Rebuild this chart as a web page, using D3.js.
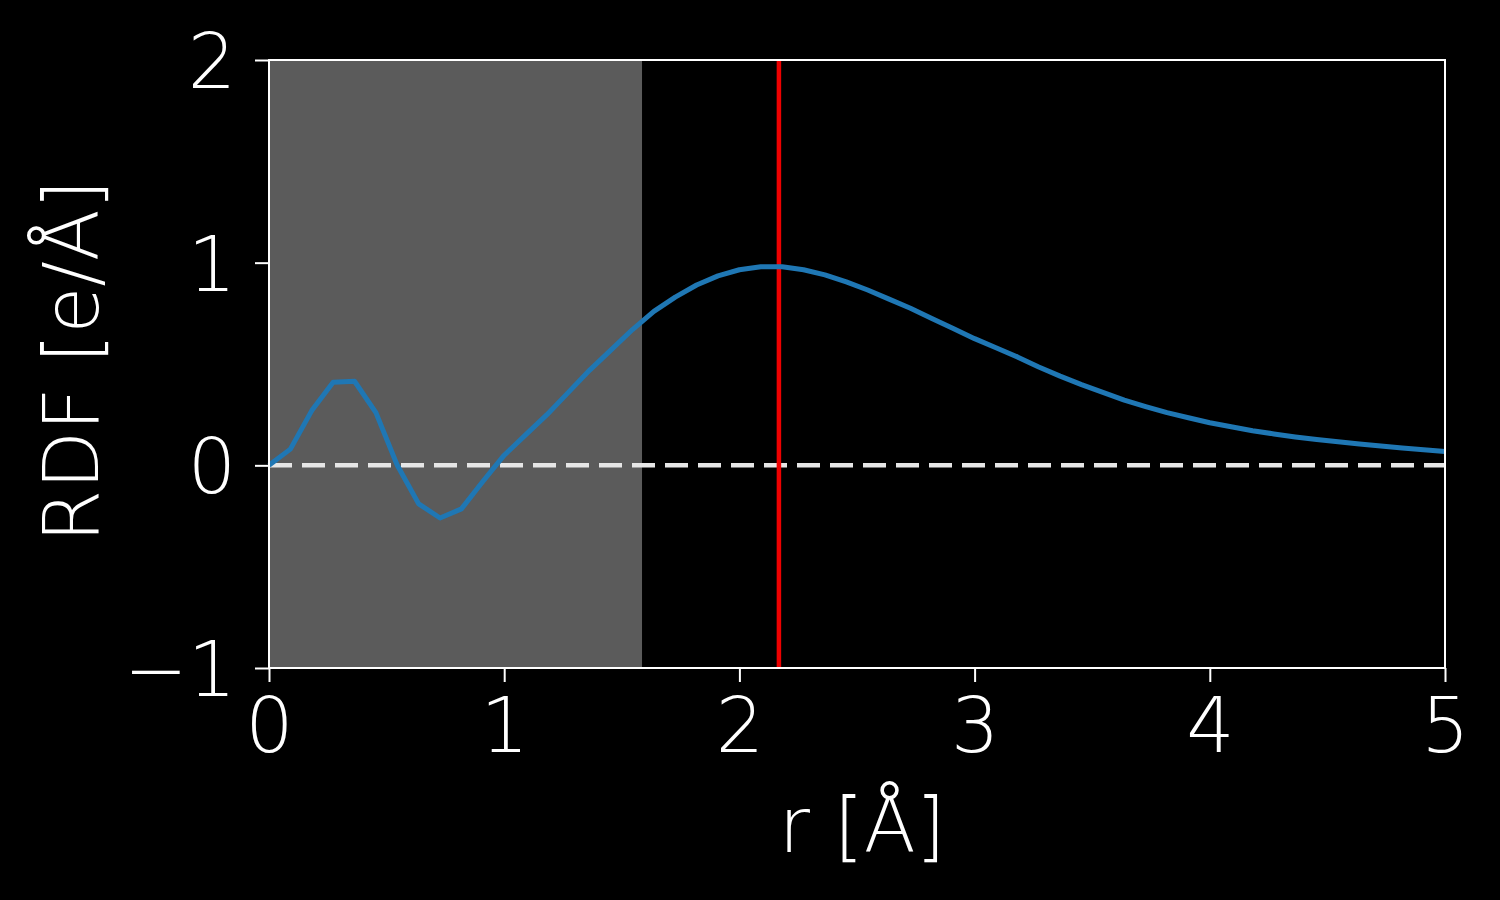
<!DOCTYPE html>
<html>
<head>
<meta charset="utf-8">
<script src="https://cdn.jsdelivr.net/npm/d3@7"></script>
<style>
    body { margin: 0; background: #000; }
    text { font-family: "DejaVu Sans", sans-serif; font-weight: 200; fill: #fff; }
</style>
</head>
<body>
<script>
//radial distribution values, sampled every 5/55 Å
var rdfValues = [0.00, 0.08, 0.27, 0.41, 0.415, 0.26, 0.00, -0.19, -0.26, -0.215,
                 -0.08, 0.05, 0.15, 0.25, 0.36, 0.47, 0.57, 0.67, 0.76, 0.83,
                 0.89, 0.935, 0.965, 0.98, 0.98, 0.965, 0.94, 0.905, 0.865, 0.82,
                 0.775, 0.725, 0.675, 0.625, 0.58, 0.535, 0.485, 0.44, 0.398, 0.36,
                 0.322, 0.29, 0.26, 0.235, 0.21, 0.19, 0.171, 0.155, 0.14, 0.127,
                 0.116, 0.105, 0.095, 0.086, 0.077, 0.068];
var rValues = rdfValues.map(function(d, i){ return i * 5 / 55; });

var shadeRange = [0, 1.586];   //grey band
var markerR = 2.168;           //red vertical line
var xTicks = [0, 1, 2, 3, 4, 5];
var yTicks = [-1, 0, 1, 2];

var width = 1500, height = 900;
var margin = {top: 60, right: 55, bottom: 232, left: 269};

var svg = d3.select("body")
    .append("svg")
    .attr("width", width)
    .attr("height", height);

var x = d3.scaleLinear().domain([0, 5]).range([margin.left, width - margin.right]);
var y = d3.scaleLinear().domain([-1, 2]).range([height - margin.bottom, margin.top]);

//grey band
svg.append("rect")
    .attr("x", x(shadeRange[0]))
    .attr("y", y(2))
    .attr("width", x(shadeRange[1]) - x(shadeRange[0]))
    .attr("height", y(-1) - y(2))
    .attr("fill", "#5b5b5b");

//zero line
svg.append("line")
    .attr("x1", x(0)).attr("x2", x(5))
    .attr("y1", y(0)).attr("y2", y(0))
    .attr("stroke", "#e6e6e6")
    .attr("stroke-width", 4.5)
    .attr("stroke-dasharray", "23,10");

//red line
svg.append("line")
    .attr("x1", x(markerR)).attr("x2", x(markerR))
    .attr("y1", y(-1)).attr("y2", y(2))
    .attr("stroke", "#ee0000")
    .attr("stroke-width", 4.5);

//rdf curve
var line = d3.line()
    .x(function(d, i){ return x(rValues[i]); })
    .y(function(d){ return y(d); });

svg.append("path")
    .datum(rdfValues)
    .attr("d", line)
    .attr("fill", "none")
    .attr("stroke", "#1f77b4")
    .attr("stroke-width", 5)
    .attr("stroke-linejoin", "round");

//axes
var xAxis = svg.append("g")
    .attr("transform", "translate(0," + y(-1) + ")")
    .call(d3.axisBottom(x).tickValues(xTicks).tickSize(14).tickPadding(16)
        .tickFormat(d3.format("d")));

var yAxis = svg.append("g")
    .attr("transform", "translate(" + x(0) + ",0)")
    .call(d3.axisLeft(y).tickValues(yTicks).tickSize(14).tickPadding(19)
        .tickFormat(function(d){ return d < 0 ? "\u2212" + Math.abs(d) : d; }));

[xAxis, yAxis].forEach(function(g){
    g.select(".domain").remove();
    g.selectAll(".tick line").attr("stroke", "#fff").attr("stroke-width", 2);
    g.selectAll(".tick text").style("font-size", "76px").attr("fill", "#fff");
});
yAxis.selectAll(".tick text").attr("dy", "0.36em");

//frame
svg.append("rect")
    .attr("x", x(0)).attr("y", y(2))
    .attr("width", x(5) - x(0))
    .attr("height", y(-1) - y(2))
    .attr("fill", "none")
    .attr("stroke", "#fff")
    .attr("stroke-width", 2);

//axis labels
svg.append("text")
    .attr("x", (x(0) + x(5)) / 2 + 5)
    .attr("y", 852)
    .attr("text-anchor", "middle")
    .style("font-size", "76px")
    .text("r [Å]");

svg.append("text")
    .attr("transform", "translate(98," + ((y(-1) + y(2)) / 2 - 3) + ") rotate(-90)")
    .attr("text-anchor", "middle")
    .style("font-size", "76px")
    .text("RDF [e/Å]");
</script>
</body>
</html>
